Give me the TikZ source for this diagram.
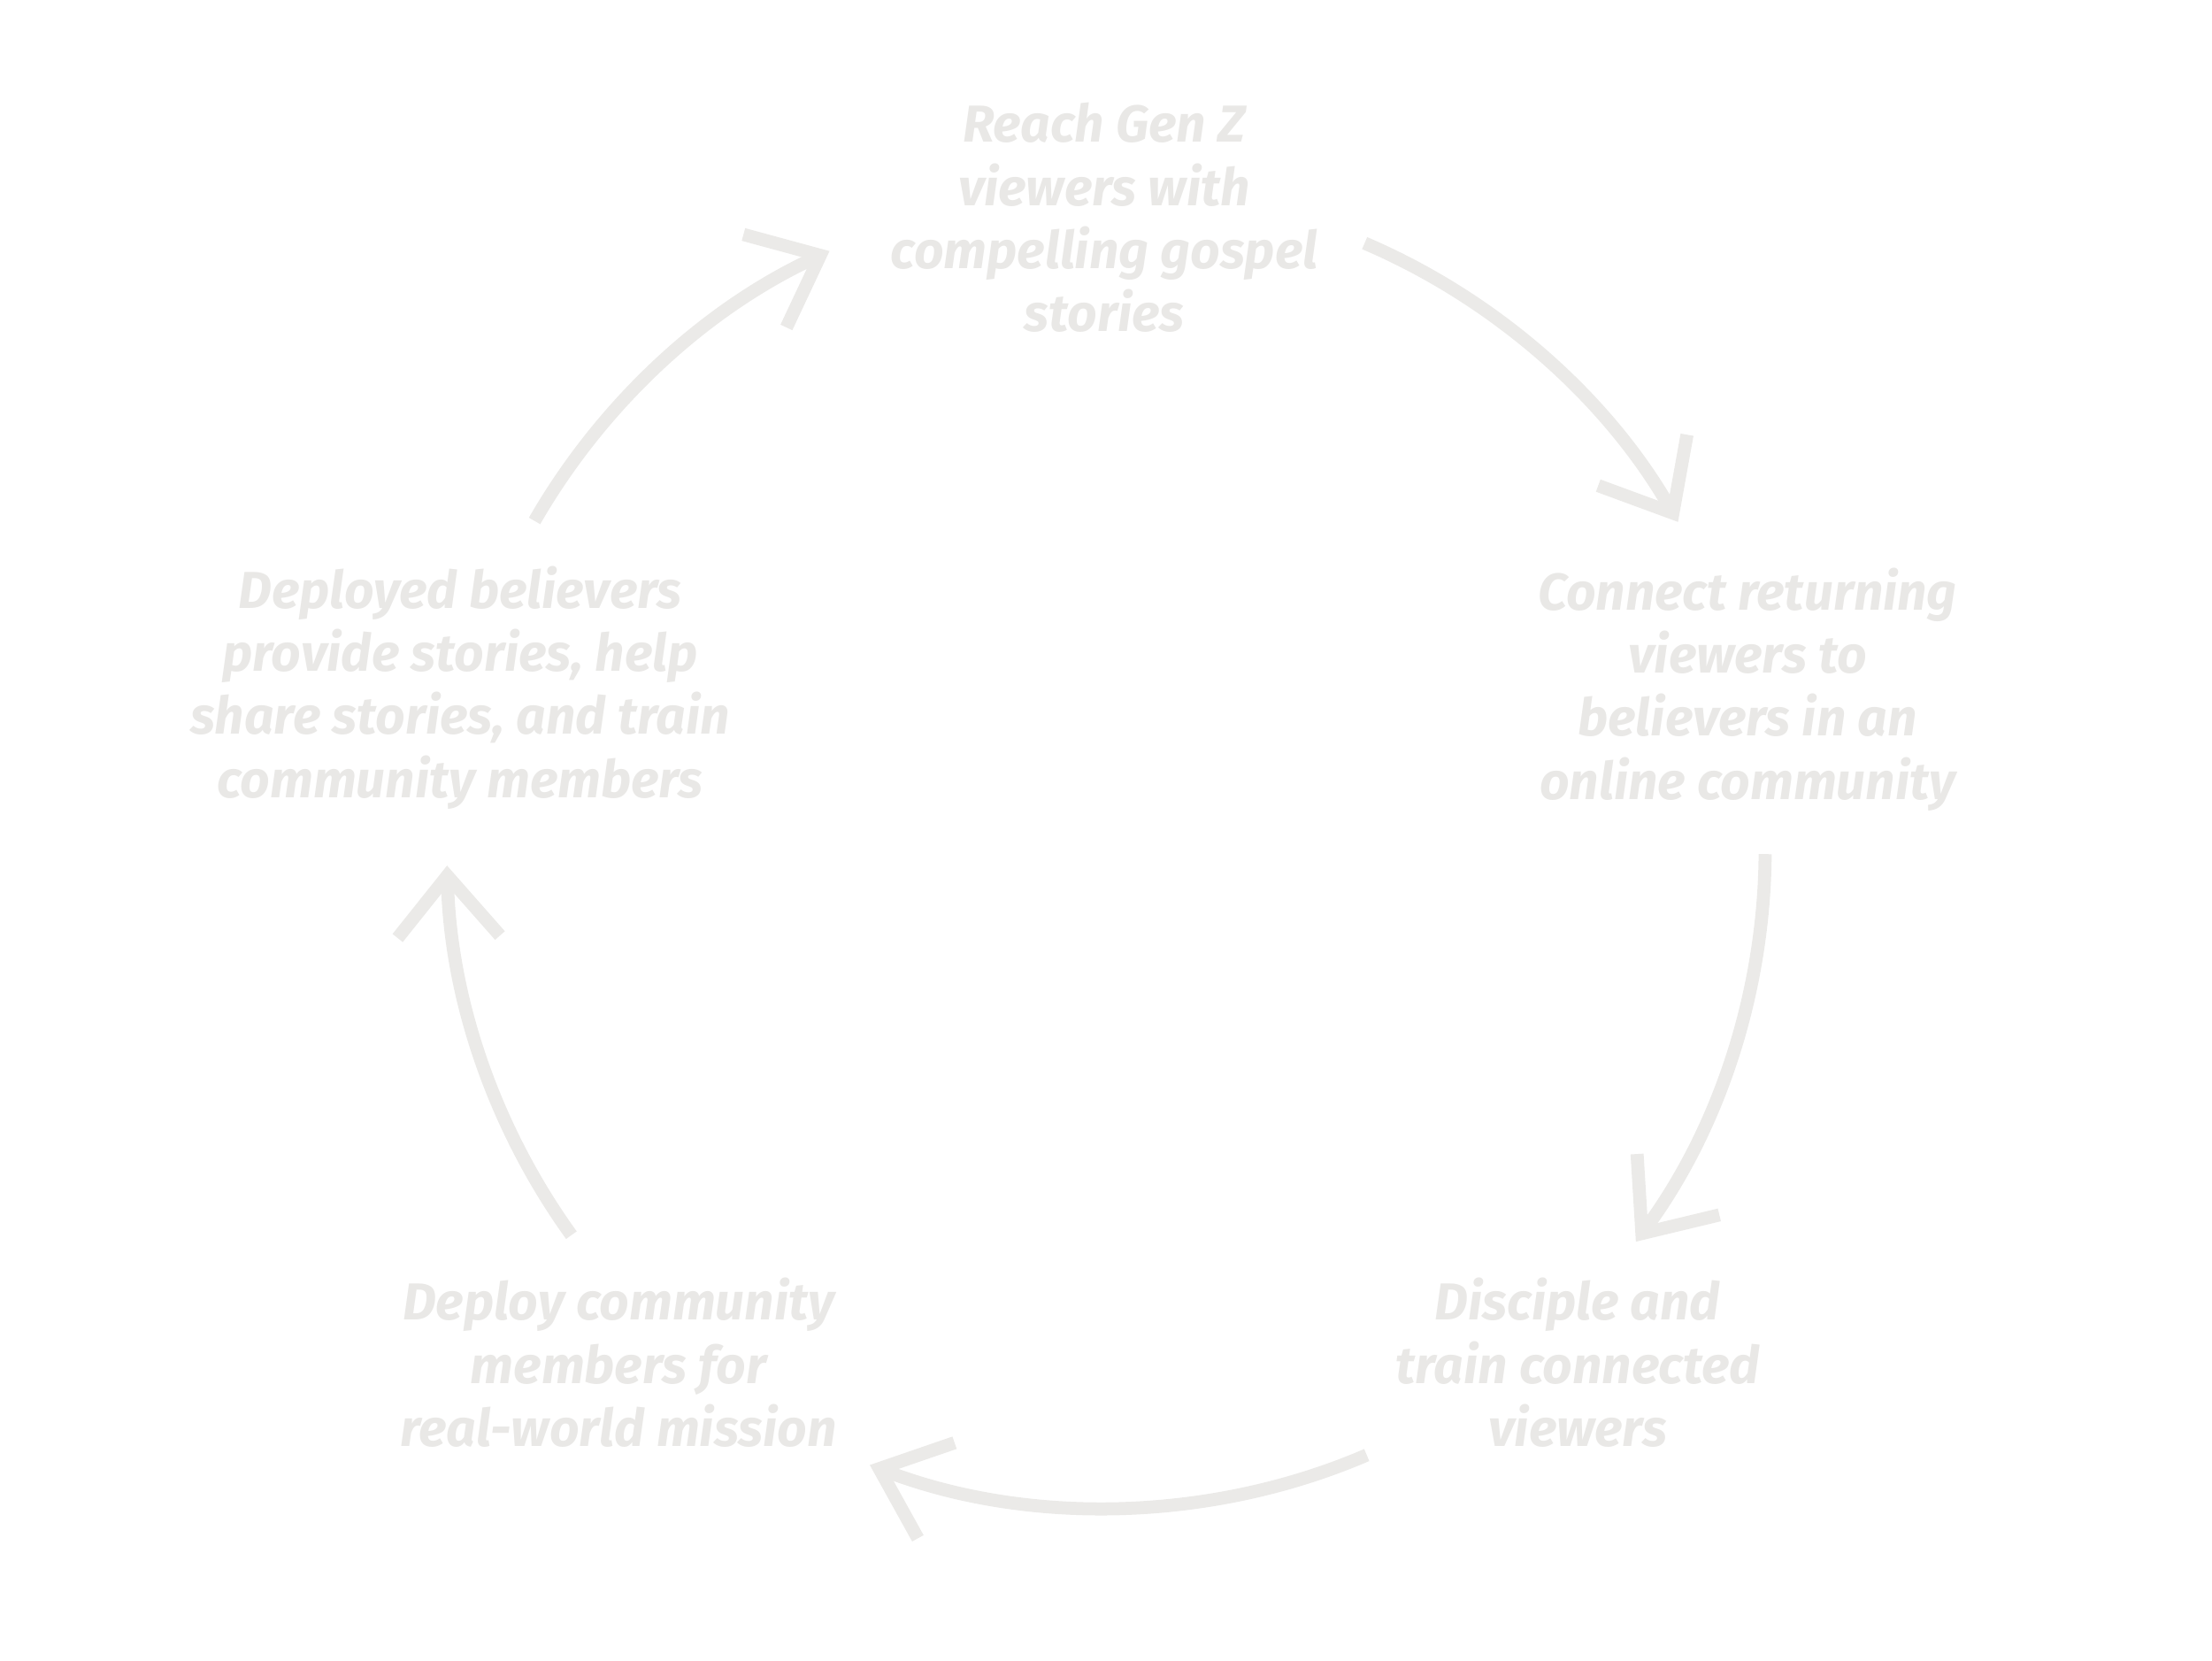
\documentclass[tikz,border=0pt]{standalone}
\usepackage{fontspec}
\setmainfont{Fira Sans}
\usetikzlibrary{arrows.meta}
\definecolor{cycleGrey}{RGB}{235,234,232}
\definecolor{labelGrey}{RGB}{233,232,230}
\newcommand{\cycleRadius}{7.45}
\newcommand{\arrowWidth}{4.2pt}

\begin{document}
\begin{tikzpicture}
  \tikzset{
    step label/.style={align=center, text=labelGrey, inner sep=0pt,
      font=\fontsize{16.7}{20.3}\selectfont\bfseries\itshape},
    cycle arrow/.style={draw=cycleGrey, line width=\arrowWidth, looseness=0.87,
      -{Straight Barb[angle=80:0.9cm, sharp]}}
  }
  \useasboundingbox (0,0) rectangle (25,-18.76);
  \coordinate (centre) at (12.5,-9.6);
  % the five steps
  \node[step label] (reach) at (12.48,-2.46) {Reach Gen Z\\viewers with\\compelling gospel\\stories};
  \node[step label] (connect) at (19.75,-7.79) {Connect returning\\viewers to\\believers in an\\online community};
  \node[step label] (train) at (17.83,-15.40) {Disciple and\\train connected\\viewers};
  \node[step label] (deploy) at (6.99,-15.40) {Deploy community\\members for\\real-world mission};
  \node[step label] (deployed) at (5.20,-7.77) {Deployed believers\\provide stories, help\\share stories, and train\\community members};
  % arc ends on the circle
  \coordinate (d2r-start) at ([shift={(150.1:\cycleRadius)}]centre);
  \coordinate (d2r-end) at ([shift={(114.8:\cycleRadius)}]centre);
  \coordinate (r2c-start) at ([shift={(66.9:\cycleRadius)}]centre);
  \coordinate (r2c-end) at ([shift={(29.8:\cycleRadius)}]centre);
  \coordinate (c2t-start) at ([shift={(-0.4:\cycleRadius)}]centre);
  \coordinate (c2t-end) at ([shift={(-36.5:\cycleRadius)}]centre);
  \coordinate (t2d-start) at ([shift={(-66.7:\cycleRadius)}]centre);
  \coordinate (t2d-end) at ([shift={(-111.0:\cycleRadius)}]centre);
  \coordinate (d2d-start) at ([shift={(-144.2:\cycleRadius)}]centre);
  \coordinate (d2d-end) at ([shift={(-178.6:\cycleRadius)}]centre);
  \draw[cycle arrow] (d2r-start) to[bend left=17.65] (d2r-end);
  \draw[cycle arrow] (r2c-start) to[bend left=18.55] (r2c-end);
  \draw[cycle arrow] (c2t-start) to[bend left=18.05] (c2t-end);
  \draw[cycle arrow] (t2d-start) to[bend left=22.15] (t2d-end);
  \draw[cycle arrow] (d2d-start) to[bend left=17.2] (d2d-end);
\end{tikzpicture}
\end{document}
